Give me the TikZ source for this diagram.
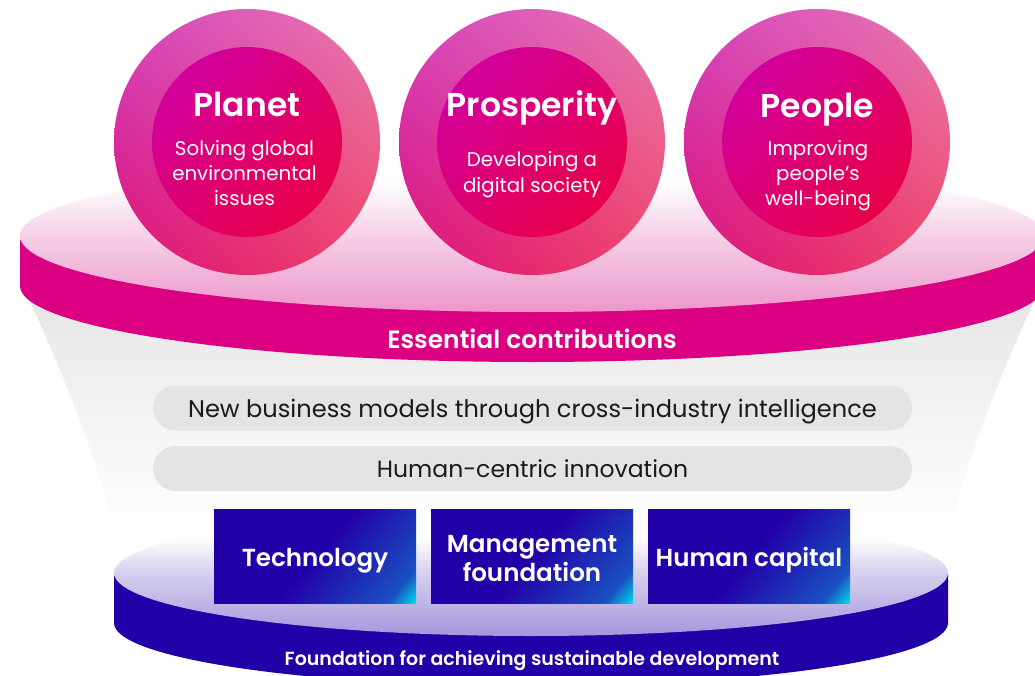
\documentclass[tikz,border=0pt]{standalone}
\usepackage{fontspec}
\setmainfont{Poppins}
\newfontfamily\medfont{Poppins SemiBold}
\definecolor{magband}{HTML}{DB0082}
\definecolor{magface}{HTML}{EC96CA}
\definecolor{magmid}{HTML}{F6D0E7}
\definecolor{indband}{HTML}{2200A8}
\definecolor{indface}{HTML}{A696DC}
\definecolor{indmid}{HTML}{D6CFEE}
\definecolor{pillgray}{HTML}{E4E4E4}
\definecolor{funnelgray}{HTML}{E4E4E4}
\definecolor{inktext}{HTML}{1A1A1A}
\definecolor{tileA}{HTML}{1A50C0}
\definecolor{tileB}{HTML}{00D8E8}
\definecolor{coreA}{HTML}{D2009C}
\definecolor{coreB}{HTML}{E80048}
\pgfdeclarefunctionalshading{outerring}{\pgfpointorigin}{\pgfpoint{100bp}{100bp}}{}{%
2 copy -0.00063 mul exch 0.00157 mul add 0.839 add 3 1 roll
2 copy 0.00424 mul exch 0.00424 mul add -0.153 add 3 1 roll
0.0058 mul exch -0.00133 mul add 0.353 add}
\pgfdeclarehorizontalshading{tilebase}{100bp}{color(0bp)=(indband); color(50bp)=(indband); color(78bp)=(tileA); color(85bp)=(tileB); color(100bp)=(tileB)}
\pgfdeclareverticalshading{faceM}{100bp}{color(0bp)=(magface); color(25bp)=(magface); color(50bp)=(magmid); color(68bp)=(white); color(100bp)=(white)}
\pgfdeclareverticalshading{faceI}{100bp}{color(0bp)=(indface); color(25bp)=(indface); color(50bp)=(indmid); color(64bp)=(white); color(100bp)=(white)}
\tikzset{
  ringshape/.style={circle,minimum size=266pt,inner sep=0pt,shading=outerring},
  coreshape/.style={circle,minimum size=190pt,inner sep=0pt,left color=coreA,right color=coreB,shading angle=45},
  tile/.style={minimum width=202pt,minimum height=94pt,inner sep=0pt,shading=tilebase,shading angle=-40},
  tiletext/.style={text=white,font=\medfont\fontsize{24.6}{29}\selectfont,anchor=base},
  pill/.style={minimum width=759pt,minimum height=45pt,inner sep=0pt,rounded corners=22.5pt,fill=pillgray},
  pilltext/.style={text=inktext,anchor=base},
  heading/.style={text=white,anchor=base,font=\medfont\fontsize{33}{36}\selectfont},
  subtext/.style={text=white,align=center,font=\fontsize{19.8}{25}\selectfont},
}
\begin{document}
\begin{tikzpicture}[x=1pt,y=-1pt]
\useasboundingbox (0,0) rectangle (1035,676);
\clip (0,0) rectangle (1035,676);
% funnel
\path[top color=funnelgray,bottom color=white,middle color=funnelgray!45]
  (20,280) .. controls (50,345) and (85,420) .. (118,540)
  -- (946,540) .. controls (979,420) and (1014,345) .. (1044,280) -- cycle;
% top disc
\fill[magband] (20,236) -- (20,286) arc[start angle=180,end angle=360,x radius=512pt,y radius=76pt] -- (1044,236) -- cycle;
\shade[shading=faceM] (532,236) ellipse [x radius=512pt,y radius=76pt];
% bottom disc
\fill[indband] (114,573) -- (114,623) arc[start angle=180,end angle=360,x radius=417pt,y radius=63pt] -- (948,573) -- cycle;
\shade[shading=faceI] (531,573) ellipse [x radius=417pt,y radius=63pt];
% circles
\foreach \n/\cx in {a/247,b/532,c/817}{
  \node[ringshape] (ring\n) at (\cx,142) {};
  \node[coreshape] (core\n) at (\cx,142) {};
}
\node[heading] (t1) at (247,117) {Planet};
\node[subtext] (s1) at (244.5,173) {Solving global\\environmental\\issues};
\node[heading] (t2) at (532,117) {Prosperity};
\node[subtext,font=\fontsize{19.8}{26}\selectfont] (s2) at (532,175) {Developing a\\digital society};
\node[heading] (t3) at (817.5,118) {People};
\node[subtext] (s3) at (818,176) {Improving\\people's\\well-being};
\node[text=white,anchor=base,font=\medfont\fontsize{25}{28}\selectfont] (ess) at (532,348) {Essential contributions};
\node[pill] (p1) at (532.5,408) {};
\node[pill] (p2) at (532.5,468.5) {};
\node[pilltext,font=\fontsize{24.1}{28}\selectfont] (p1t) at (532.5,417) {New business models through cross-industry intelligence};
\node[pilltext,font=\fontsize{23.5}{28}\selectfont] (p2t) at (532.5,477) {Human-centric innovation};
\node[tile] (b1) at (315,556) {};
\node[tile] (b2) at (532,556) {};
\node[tile] (b3) at (749,556) {};
\node[tiletext] (b1t) at (315,566) {Technology};
\node[tiletext] (b2t) at (532,552) {Management};
\node[tiletext] (b2u) at (532,581) {foundation};
\node[tiletext] (b3t) at (749,566) {Human capital};
\node[text=white,anchor=base,font=\medfont\fontsize{19}{22}\selectfont] (fnd) at (532,665) {Foundation for achieving sustainable development};
\end{tikzpicture}
\end{document}
